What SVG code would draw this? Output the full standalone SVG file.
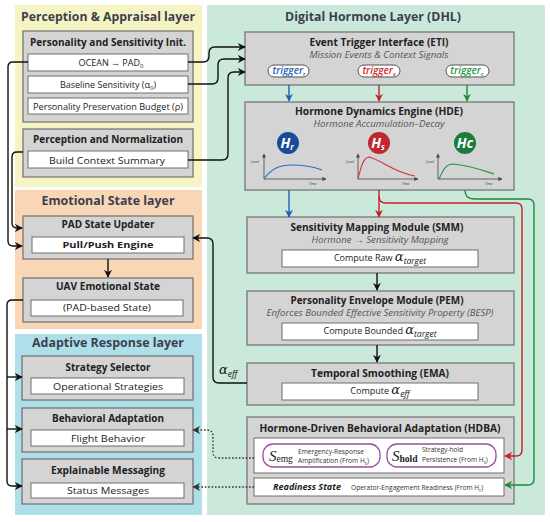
<svg xmlns="http://www.w3.org/2000/svg" width="550" height="522" viewBox="0 0 550 522">
<defs>
<style>
.lt{font-family:"Open Sans","Noto Sans",sans-serif;font-weight:700;font-size:12px;fill:#3c3f4f;text-anchor:middle}
.box{fill:#d4d4d4;stroke:#6e6e6e;stroke-width:1.2}
.wbox{fill:#fff;stroke:#6e6e6e;stroke-width:1}
.bt{font-family:"Open Sans","Noto Sans",sans-serif;font-weight:700;font-size:10px;fill:#222;text-anchor:middle}
.wt{font-family:"Open Sans","Noto Sans",sans-serif;font-size:9px;fill:#222;text-anchor:middle}
.it{font-family:"Open Sans","Noto Sans",sans-serif;font-style:italic;font-size:8.5px;fill:#555;text-anchor:middle}
.al{font-family:"DejaVu Serif",serif;font-style:italic;font-size:13px}
.as{font-family:"Open Sans",sans-serif;font-style:italic;font-size:8.5px}
.tp{font-family:"Open Sans",sans-serif;font-style:italic;font-weight:600;font-size:10px;text-anchor:middle}
.pill{fill:#fff;stroke:#555;stroke-width:1}
.pp{fill:#fff;stroke:#9b4d9f;stroke-width:1.3}
.sm{font-family:"Open Sans",sans-serif;font-size:6.6px;fill:#333}
.hc{font-family:"Open Sans",sans-serif;font-weight:700;font-style:italic;font-size:14px;fill:#fff;text-anchor:middle}
.tiny{font-family:"Open Sans",sans-serif;font-style:italic;font-size:3.6px;fill:#333}
.ln{fill:none;stroke:#111;stroke-width:1.4}
.dot{fill:none;stroke:#333;stroke-width:1.3;stroke-dasharray:1.6 1.8}
.ax{fill:none;stroke:#444;stroke-width:0.8}
</style>
<marker id="ak" viewBox="0 0 10 10" refX="9" refY="5" markerWidth="8" markerHeight="8" markerUnits="userSpaceOnUse" orient="auto"><path d="M0,0 L10,5 L0,10 L3,5 z" fill="#111"/></marker>
<marker id="ab" viewBox="0 0 10 10" refX="9" refY="5" markerWidth="8" markerHeight="8" markerUnits="userSpaceOnUse" orient="auto"><path d="M0,0 L10,5 L0,10 L3,5 z" fill="#1f5fb5"/></marker>
<marker id="ar" viewBox="0 0 10 10" refX="9" refY="5" markerWidth="8" markerHeight="8" markerUnits="userSpaceOnUse" orient="auto"><path d="M0,0 L10,5 L0,10 L3,5 z" fill="#c8202a"/></marker>
<marker id="ag" viewBox="0 0 10 10" refX="9" refY="5" markerWidth="8" markerHeight="8" markerUnits="userSpaceOnUse" orient="auto"><path d="M0,0 L10,5 L0,10 L3,5 z" fill="#1f8a3c"/></marker>
<marker id="ad" viewBox="0 0 10 10" refX="9" refY="5" markerWidth="8" markerHeight="8" markerUnits="userSpaceOnUse" orient="auto"><path d="M0,0 L10,5 L0,10 L3,5 z" fill="#333"/></marker>
<marker id="ax" viewBox="0 0 10 10" refX="9" refY="5" markerWidth="4" markerHeight="4" markerUnits="userSpaceOnUse" orient="auto"><path d="M0,0 L10,5 L0,10 z" fill="#444"/></marker>
</defs>
<rect width="550" height="522" fill="#fff"/>

<!-- Layers -->
<g id="layer-perception">
<rect x="15" y="5" width="187" height="182" fill="#f7f4c4"/>
<text class="lt" x="108" y="21" textLength="174" lengthAdjust="spacingAndGlyphs">Perception &amp; Appraisal layer</text>
</g>
<g id="layer-emotional">
<rect x="15" y="190" width="187" height="139" fill="#f9d6b6"/>
<text class="lt" x="108" y="205" textLength="133" lengthAdjust="spacingAndGlyphs">Emotional State layer</text>
</g>
<g id="layer-adaptive">
<rect x="15" y="334" width="187" height="181" fill="#afdfe9"/>
<text class="lt" x="108" y="347" textLength="152" lengthAdjust="spacingAndGlyphs">Adaptive Response layer</text>
</g>
<g id="layer-dhl">
<rect x="207" y="5" width="338" height="510" fill="#cbe9da"/>
<text class="lt" x="373" y="21" textLength="176" lengthAdjust="spacingAndGlyphs">Digital Hormone Layer (DHL)</text>
</g>

<!-- Perception & Appraisal nodes -->
<g id="psi">
<rect class="box" x="23" y="31" width="170" height="91"/>
<text class="bt" x="108" y="46" textLength="156" lengthAdjust="spacingAndGlyphs">Personality and Sensitivity Init.</text>
<rect class="wbox" x="28" y="54" width="160" height="17"/>
<text class="wt" x="111" y="66">OCEAN → PAD<tspan font-size="6" dy="2">0</tspan></text>
<rect class="wbox" x="28" y="76" width="160" height="17"/>
<text class="wt" x="108" y="88">Baseline Sensitivity (α<tspan font-size="6" dy="2">0</tspan><tspan dy="-2">)</tspan></text>
<rect class="wbox" x="28" y="98" width="160" height="16"/>
<text class="wt" x="108" y="110" textLength="150" lengthAdjust="spacingAndGlyphs">Personality Preservation Budget (ρ)</text>
</g>
<g id="pn">
<rect class="box" x="23" y="129" width="170" height="48"/>
<text class="bt" x="108" y="143" textLength="150" lengthAdjust="spacingAndGlyphs">Perception and Normalization</text>
<rect class="wbox" x="28" y="151" width="160" height="17"/>
<text class="wt" x="107" y="164" font-size="10" textLength="116" lengthAdjust="spacingAndGlyphs">Build Context Summary</text>
</g>

<!-- Emotional State nodes -->
<g id="pad">
<rect class="box" x="23" y="216" width="170" height="43"/>
<text class="bt" x="108" y="228" textLength="93" lengthAdjust="spacingAndGlyphs">PAD State Updater</text>
<rect class="wbox" x="32" y="237" width="152" height="16"/>
<text class="wt" x="108" y="248" font-weight="700" fill="#444" textLength="91" lengthAdjust="spacingAndGlyphs">Pull/Push Engine</text>
</g>
<g id="uav">
<rect class="box" x="23" y="278" width="170" height="44"/>
<text class="bt" x="108" y="290" textLength="104" lengthAdjust="spacingAndGlyphs">UAV Emotional State</text>
<rect class="wbox" x="31" y="300" width="152" height="16"/>
<text class="wt" x="107" y="311" textLength="88" lengthAdjust="spacingAndGlyphs">(PAD-based State)</text>
</g>

<!-- Adaptive Response nodes -->
<g id="ss">
<rect class="box" x="22" y="356" width="171" height="44"/>
<text class="bt" x="108" y="371" textLength="85" lengthAdjust="spacingAndGlyphs">Strategy Selector</text>
<rect class="wbox" x="31" y="378" width="153" height="16"/>
<text class="wt" x="108" y="390" textLength="110" lengthAdjust="spacingAndGlyphs">Operational Strategies</text>
</g>
<g id="ba">
<rect class="box" x="22" y="408" width="171" height="44"/>
<text class="bt" x="108" y="422" textLength="112" lengthAdjust="spacingAndGlyphs">Behavioral Adaptation</text>
<rect class="wbox" x="31" y="430" width="153" height="16"/>
<text class="wt" x="108" y="442" textLength="74" lengthAdjust="spacingAndGlyphs">Flight Behavior</text>
</g>
<g id="em">
<rect class="box" x="22" y="459" width="171" height="45"/>
<text class="bt" x="108" y="474" textLength="114" lengthAdjust="spacingAndGlyphs">Explainable Messaging</text>
<rect class="wbox" x="31" y="483" width="153" height="15"/>
<text class="wt" x="108" y="494" textLength="82" lengthAdjust="spacingAndGlyphs">Status Messages</text>
</g>

<!-- DHL nodes -->
<g id="eti">
<rect class="box" x="245" y="32" width="269" height="53"/>
<text class="bt" x="379" y="46" textLength="139" lengthAdjust="spacingAndGlyphs">Event Trigger Interface (ETI)</text>
<text class="it" x="379" y="58" textLength="139" lengthAdjust="spacingAndGlyphs">Mission Events &amp; Context Signals</text>
<rect class="pill" x="268" y="65" width="41" height="12" rx="6"/>
<text class="tp" x="289" y="74" fill="#2e64b8">trigger<tspan font-size="6" dy="2">r</tspan></text>
<rect class="pill" x="358" y="65" width="42" height="12" rx="6"/>
<text class="tp" x="379" y="74" fill="#d03030">trigger<tspan font-size="6" dy="2">s</tspan></text>
<rect class="pill" x="446" y="65" width="43" height="12" rx="6"/>
<text class="tp" x="467" y="74" fill="#2a9a4a">trigger<tspan font-size="6" dy="2">c</tspan></text>
</g>
<g id="hde">
<rect class="box" x="245" y="102" width="269" height="88"/>
<text class="bt" x="379" y="115" textLength="168" lengthAdjust="spacingAndGlyphs">Hormone Dynamics Engine (HDE)</text>
<text class="it" x="379" y="127" textLength="131" lengthAdjust="spacingAndGlyphs">Hormone Accumulation–Decay</text>
<circle cx="288" cy="143" r="11" fill="#1a4b9a"/>
<text class="hc" x="287" y="148">H<tspan font-size="8" dy="2">r</tspan></text>
<circle cx="379" cy="143" r="11" fill="#c1272d"/>
<text class="hc" x="378" y="148">H<tspan font-size="8" dy="2">s</tspan></text>
<circle cx="465" cy="143" r="11" fill="#1b7d3c"/>
<text class="hc" x="465" y="148" font-size="13">Hc</text>
<path class="ax" d="M264,179 V154" marker-end="url(#ax)"/>
<path class="ax" d="M264,179 H326" marker-end="url(#ax)"/>
<path d="M264,179 C271,169 279,165 292,165 C305,165 314,167 322,170" fill="none" stroke="#2e6cc4" stroke-width="1.1"/>
<text class="tiny" x="251" y="163">Level</text>
<text class="tiny" x="309" y="185">Time</text>
<path class="ax" d="M358,179 V154" marker-end="url(#ax)"/>
<path class="ax" d="M358,179 H418" marker-end="url(#ax)"/>
<path d="M358,179 C361,167 363,158 369,157 C382,160 392,172 415,176" fill="none" stroke="#d3323a" stroke-width="1.1"/>
<text class="tiny" x="346" y="163">Level</text>
<text class="tiny" x="402" y="185">Time</text>
<path class="ax" d="M438,179 V154" marker-end="url(#ax)"/>
<path class="ax" d="M438,179 H502" marker-end="url(#ax)"/>
<path d="M439,179 C443,170 446,164 453,164 C468,165 482,170 494,174" fill="none" stroke="#1f9a48" stroke-width="1.1"/>
<text class="tiny" x="426" y="163">Level</text>
<text class="tiny" x="485" y="185">Time</text>
</g>
<g id="smm">
<rect class="box" x="247" y="217" width="267" height="56"/>
<text class="bt" x="377" y="231" textLength="173" lengthAdjust="spacingAndGlyphs">Sensitivity Mapping Module (SMM)</text>
<text class="it" x="380" y="243" textLength="137" lengthAdjust="spacingAndGlyphs">Hormone → Sensitivity Mapping</text>
<rect class="wbox" x="282" y="250" width="196" height="17"/>
<text class="wt" x="380" y="261">Compute Raw <tspan class="al">α</tspan><tspan class="as" dy="3">target</tspan></text>
</g>
<g id="pem">
<rect class="box" x="247" y="291" width="267" height="54"/>
<text class="bt" x="377" y="304" textLength="173" lengthAdjust="spacingAndGlyphs">Personality Envelope Module (PEM)</text>
<text class="it" x="380" y="316" textLength="227" lengthAdjust="spacingAndGlyphs">Enforces Bounded Effective Sensitivity Property (BESP)</text>
<rect class="wbox" x="282" y="323" width="196" height="17"/>
<text class="wt" x="380" y="334">Compute Bounded <tspan class="al">α</tspan><tspan class="as" dy="3">target</tspan></text>
</g>
<g id="ema">
<rect class="box" x="247" y="363" width="267" height="42"/>
<text class="bt" x="380" y="377" textLength="138" lengthAdjust="spacingAndGlyphs">Temporal Smoothing (EMA)</text>
<rect class="wbox" x="282" y="383" width="196" height="17"/>
<text class="wt" x="380" y="394">Compute <tspan class="al">α</tspan><tspan class="as" dy="3">eff</tspan></text>
</g>
<g id="hdba">
<rect class="box" x="247" y="417" width="267" height="87"/>
<text class="bt" x="380" y="432" textLength="241" lengthAdjust="spacingAndGlyphs">Hormone-Driven Behavioral Adaptation (HDBA)</text>
<rect class="wbox" x="254" y="438" width="250" height="35"/>
<rect class="pp" x="263" y="444" width="117" height="23" rx="10"/>
<text x="269" y="461" font-family="'Liberation Serif',serif" font-style="italic" font-size="15" fill="#222">S<tspan font-style="normal" font-size="9.5" dy="1">emg</tspan></text>
<text class="sm" x="298" y="454">Emergency-Response</text>
<text class="sm" x="298" y="463">Amplification (From H<tspan font-size="4.5" dy="1.5">s</tspan><tspan dy="-1.5">)</tspan></text>
<rect class="pp" x="387" y="444" width="109" height="23" rx="10"/>
<text x="392" y="461" font-family="'Liberation Serif',serif" font-style="italic" font-size="15" fill="#222">S<tspan font-style="normal" font-weight="700" font-size="9.5" dy="1">hold</tspan></text>
<text class="sm" x="422" y="452">Strategy-hold</text>
<text class="sm" x="422" y="462">Persistence (From H<tspan font-size="4.5" dy="1.5">s</tspan><tspan dy="-1.5">)</tspan></text>
<rect class="wbox" x="254" y="478" width="250" height="18"/>
<text x="273" y="490" font-family="'Open Sans',sans-serif" font-weight="700" font-style="italic" font-size="9.5" fill="#222" textLength="68" lengthAdjust="spacingAndGlyphs">Readiness State</text>
<text class="sm" x="351" y="490">Operator-Engagement Readiness (From H<tspan font-size="4.5" dy="1.5">c</tspan><tspan dy="-1.5">)</tspan></text>
</g>

<!-- Connectors -->
<g id="connectors">
<path class="ln" d="M28,62 H13 Q8,62 8,67 V241 Q8,246 13,246 H22" marker-end="url(#ak)"/>
<path class="ln" d="M23,152 H17 Q12,152 12,157 V223 Q12,228 17,228 H22" marker-end="url(#ak)"/>
<path class="ln" d="M108,259 V277" marker-end="url(#ak)"/>
<path class="ln" d="M23,300 H12 Q7,300 7,305 V481 Q7,486 12,486 H22" marker-end="url(#ak)"/>
<path class="ln" d="M7,377 H22" marker-end="url(#ak)"/>
<path class="ln" d="M7,429 H22" marker-end="url(#ak)"/>
<path class="ln" d="M188,62 H203 Q209,62 209,56 V53 Q209,47 215,47 H245" marker-end="url(#ak)"/>
<path class="ln" d="M188,84 H212 Q218,84 218,78 V65 Q218,59 224,59 H245" marker-end="url(#ak)"/>
<path class="ln" d="M188,160 H222 Q228,160 228,154 V78 Q228,72 234,72 H245" marker-end="url(#ak)"/>
<path class="ln" d="M247,383 H219 Q213,383 213,377 V244 Q213,238 207,238 H193" marker-end="url(#ak)"/>
<text x="219" y="374" font-family="'DejaVu Serif',serif" font-style="italic" font-size="13" fill="#111">α<tspan font-family="'Open Sans',sans-serif" font-size="8.5" dy="3">eff</tspan></text>
<path class="dot" d="M254,458 H219 Q213,458 213,452 V436 Q213,430 207,430 H193" marker-end="url(#ad)"/>
<path class="dot" d="M254,487 H193" marker-end="url(#ad)"/>
<path d="M289,85 V101" fill="none" stroke="#1f5fb5" stroke-width="1.4" marker-end="url(#ab)"/>
<path d="M379,85 V101" fill="none" stroke="#c8202a" stroke-width="1.4" marker-end="url(#ar)"/>
<path d="M467,85 V101" fill="none" stroke="#1f8a3c" stroke-width="1.4" marker-end="url(#ag)"/>
<path d="M289,190 V217" fill="none" stroke="#1f5fb5" stroke-width="1.4" marker-end="url(#ab)"/>
<path d="M379,190 V217" fill="none" stroke="#c8202a" stroke-width="1.4" marker-end="url(#ar)"/>
<path d="M379,196 Q379,203 386,203 H516 Q522,203 522,209 V450 Q522,456 516,456 H505" fill="none" stroke="#c8202a" stroke-width="1.4" marker-end="url(#ar)"/>
<path d="M465,190 Q465,199 474,199 H528 Q534,199 534,205 V479 Q534,485 528,485 H505" fill="none" stroke="#1f8a3c" stroke-width="1.4" marker-end="url(#ag)"/>
<path class="ln" d="M377,273 V290" marker-end="url(#ak)"/>
<path class="ln" d="M377,345 V362" marker-end="url(#ak)"/>
</g>
</svg>
